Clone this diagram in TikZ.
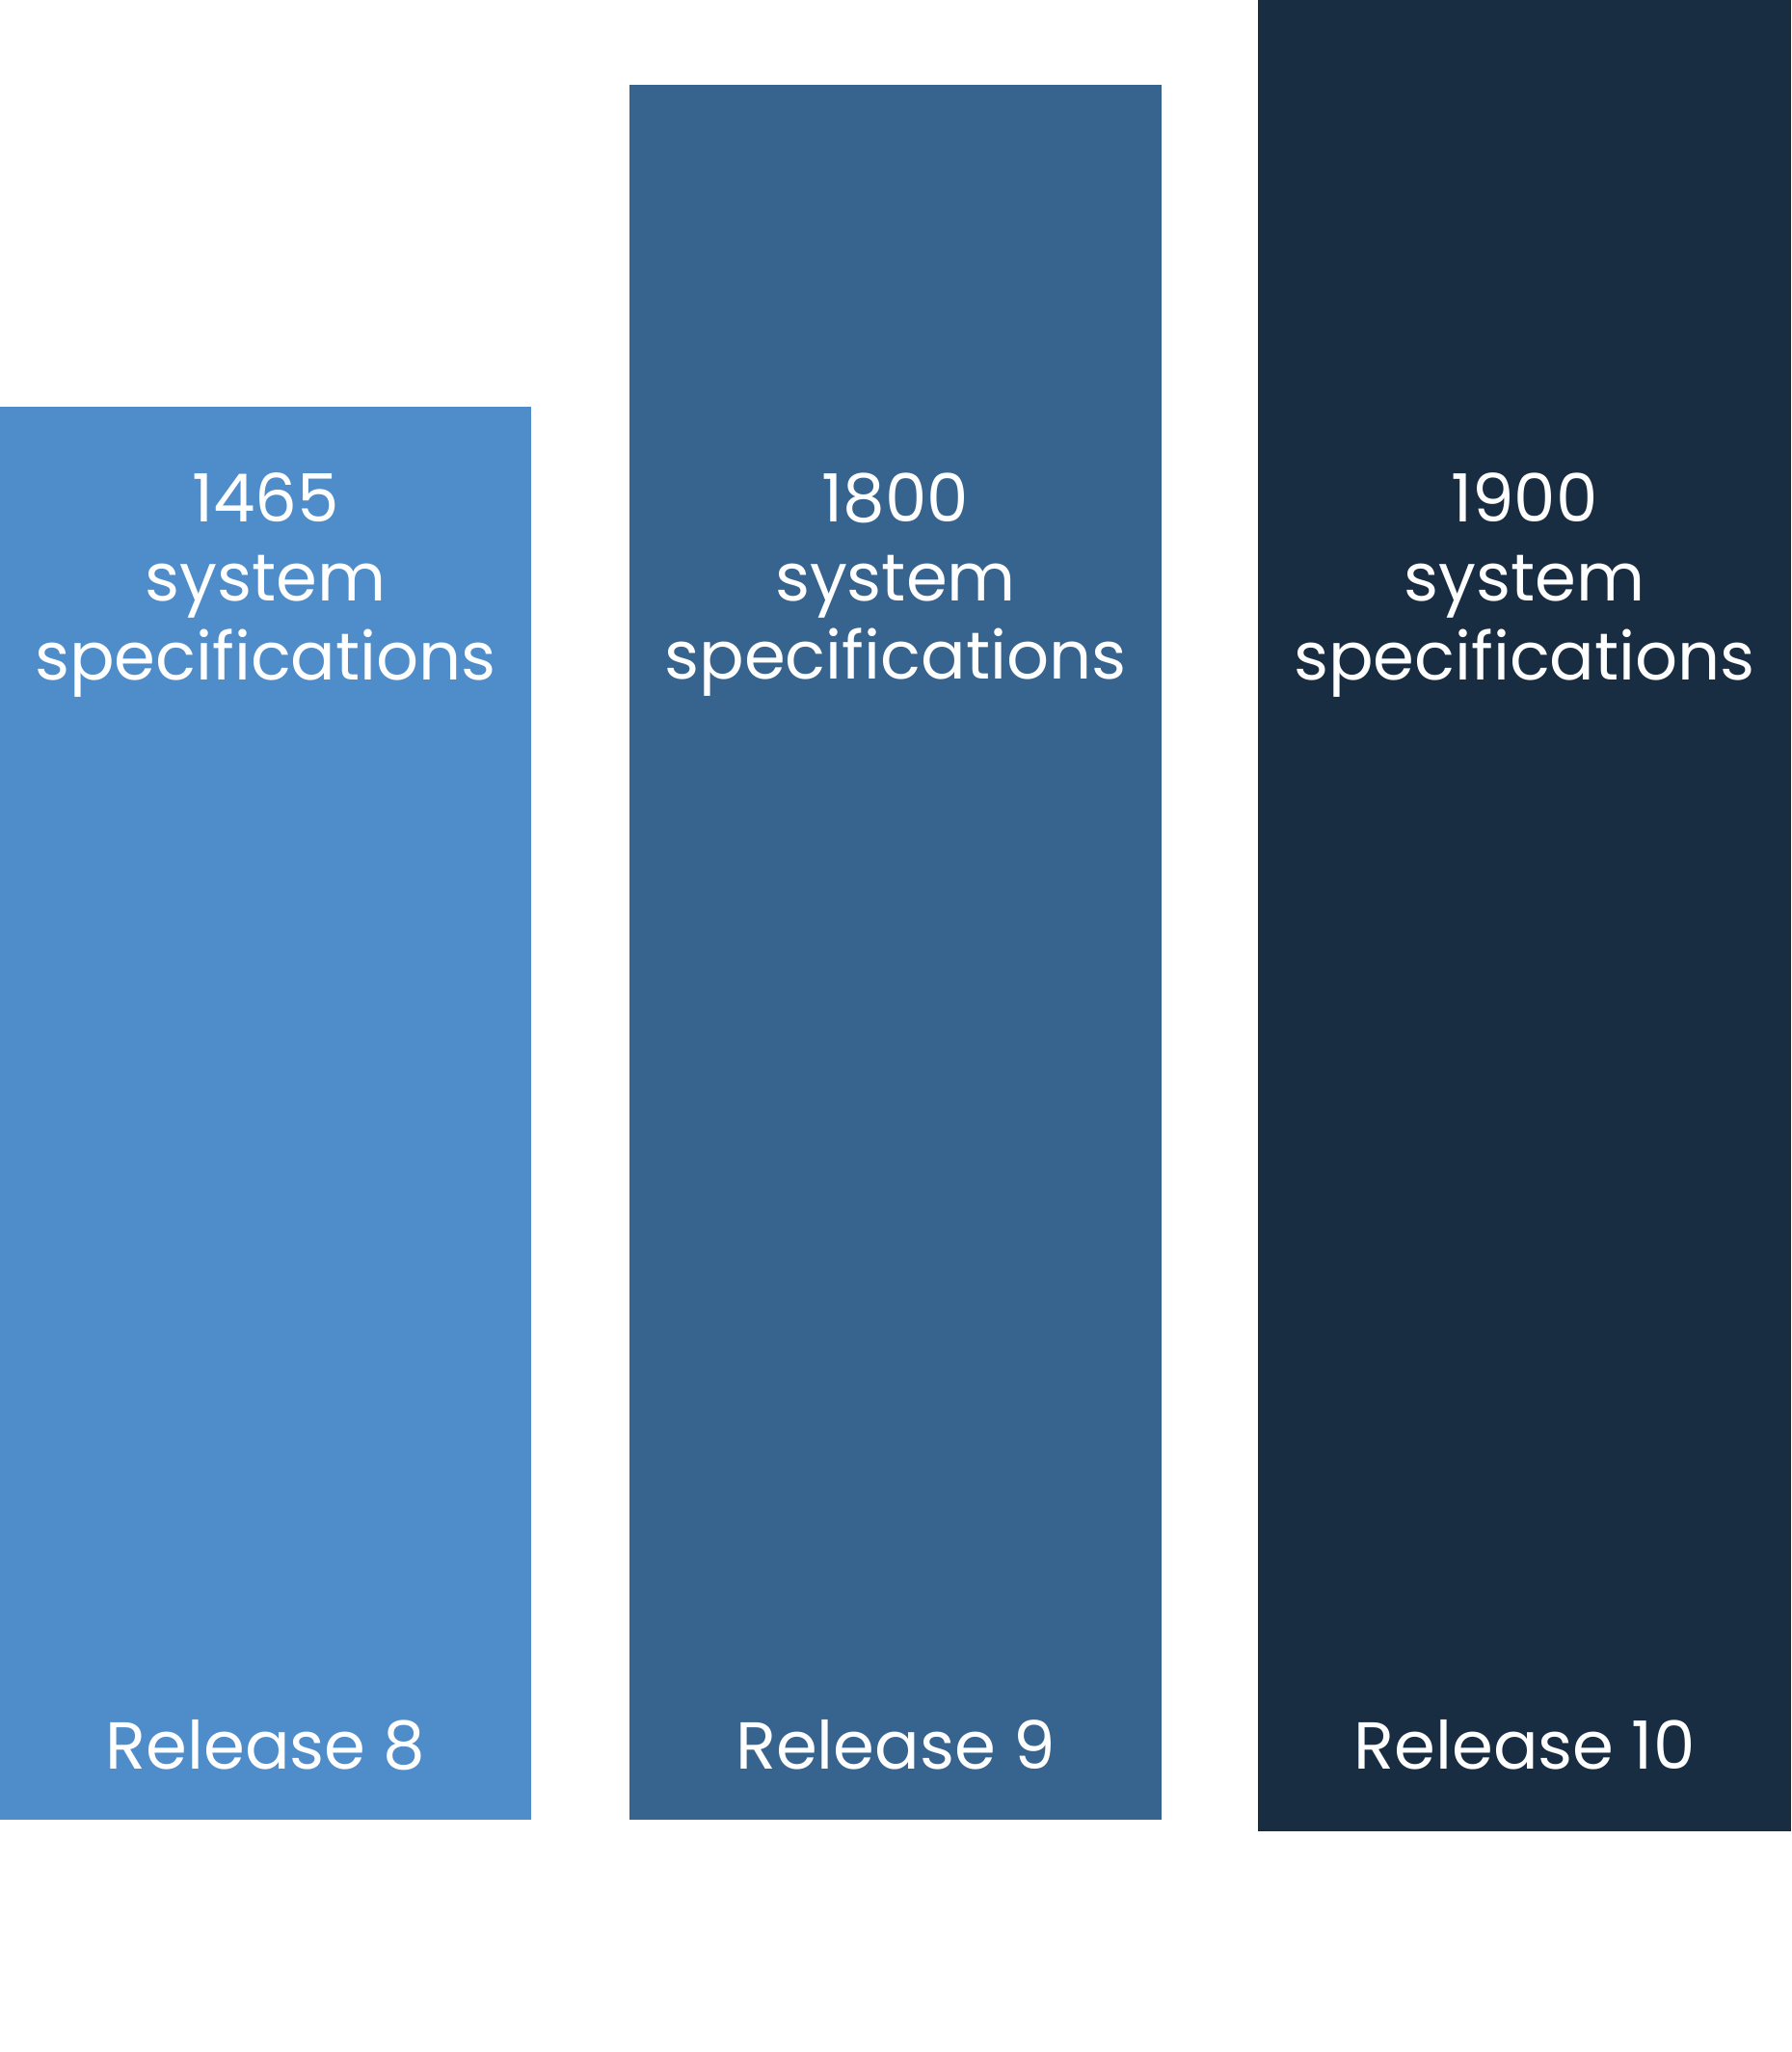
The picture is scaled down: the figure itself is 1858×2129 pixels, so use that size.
\documentclass[tikz,border=0pt]{standalone}
\usepackage{fontspec}
\setmainfont{Poppins}
\usepackage{tikz}
\usetikzlibrary{positioning}

\definecolor{relA}{HTML}{4F8DCA}
\definecolor{relB}{HTML}{37648E}
\definecolor{relC}{HTML}{192D42}

\begin{document}
\begin{tikzpicture}[
                  x=0.5pt, y=0.5pt,
                  bar/.style={rectangle, inner sep=0pt, outer sep=0pt, anchor=south west, minimum width=276pt},
                  count/.style={text=white, align=center, font=\fontsize{34.5}{40.8}\selectfont},
                  release/.style={text=white, anchor=base, font=\fontsize{34.5}{40.8}\selectfont}
            ]
            \useasboundingbox (0,0) rectangle (1858,2129);

            % Bars
            \node [bar, fill=relA, minimum width=275.5pt, minimum height=733pt] (r8) at (0,241) {};
            \node [bar, fill=relB, minimum height=900pt] (r9) at (653,241) {};
            \node [bar, fill=relC, minimum width=276.5pt, minimum height=950pt] (r10) at (1305,229) {};

            % Counts
            \node [count] (c8) at (r8 |- 0,1522) {1465\\ system\\ specifications};
            \node [count] (c9) at (r9 |- 0,1522) {1800\\ system\\ specifications};
            \node [count] (c10) at (r10 |- 0,1522) {1900\\ system\\ specifications};

            % Labels
            \node [release] (l8) at (r8 |- 0,293) {Release 8};
            \node [release] (l9) at (r9 |- 0,293) {Release 9};
            \node [release] (l10) at (r10 |- 0,293) {Release 10};
      \end{tikzpicture}
\end{document}
